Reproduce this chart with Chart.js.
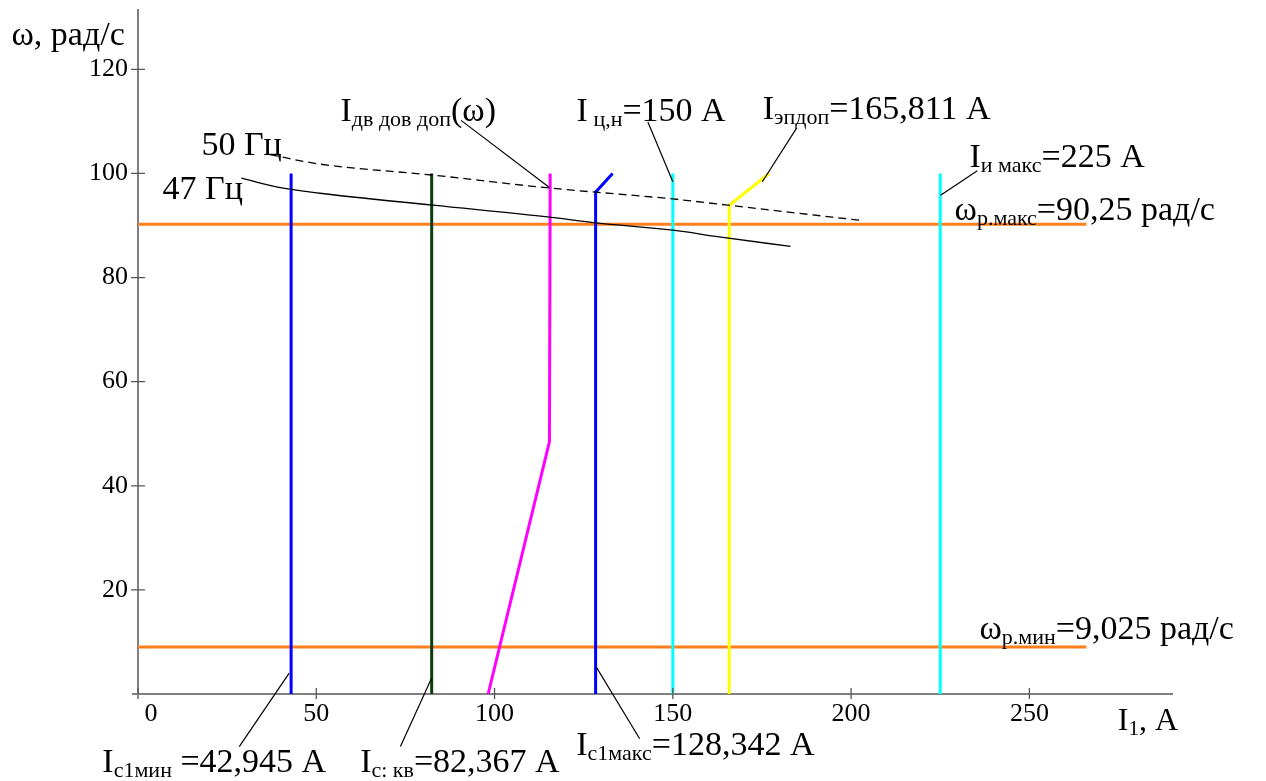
<!DOCTYPE html>
<html>
<head>
<meta charset="utf-8">
<script src="https://cdn.jsdelivr.net/npm/chart.js@4.4.1/dist/chart.umd.min.js"></script>
<style>
  html, body { margin: 0; padding: 0; background: #fff; }
  canvas { display: block; }
</style>
</head>
<body>
<canvas id="chart" width="1266" height="781"></canvas>
<script>
// Tick values of both axes
const xTicks = [0, 50, 100, 150, 200, 250];
const yTicks = [20, 40, 60, 80, 100, 120];

// Mechanical characteristic at 50 Hz: current I1 (A) and speed ω (rad/s)
const curve50I = [37, 51, 82.4, 115.4, 150, 163, 202.5];
const curve50W = [103.6, 101.8, 99.7, 97.2, 95.1, 94.1, 91.0];

// Mechanical characteristic at 47 Hz
const curve47I = [29, 38.8, 51, 82.7, 115.4, 128.5, 150.1, 163, 183];
const curve47W = [99.1, 97.4, 96.2, 93.9, 91.6, 90.5, 89.1, 87.8, 86.0];

// Current limits, A
const Ic1min = 42.945;
const Iskv = 82.367;
const Ic1max = 128.342;
const Itn = 150;
const Iep = 165.811;
const Iim = 225;

// Speed limits, rad/s
const wMax = 90.25;
const wMin = 9.025;
const wTop = 100;
const limitEndI = 266;

// Permissible motor current vs speed
const dvI = [98.2, 115.4, 115.6];
const dvW = [0, 48.5, wTop];

// Upper ends of the bent limit lines
const c1maxI = [Ic1max, Ic1max, 133.1];
const c1maxW = [0, 96.4, wTop];
const epI = [Iep, Iep, 177.0];
const epW = [0, 93.9, wTop];

// Leader lines from the captions to the curves: [I1, ω, I2, ω2]
const leaders = [
  [90.6, 110.2, 115.4, 97.3],
  [143.0, 109.9, 150.0, 98.4],
  [184.8, 108.8, 175.1, 98.4],
  [235.4, 100.5, 225.1, 95.8],
  [42.4, 4.0, 28.4, -10.1],
  [82.3, 3.0, 73.6, -10.1],
  [128.5, 5.2, 140.7, -8.6]
];

const fmt = v => String(v).replace('.', ',');
const pts = (xs, ys) => xs.map((v, i) => ({ x: v, y: ys[i] }));

// Captions: anchor [I1, ω] of the baseline start, then text runs (1 = subscript)
const notes = [
  { at: [17.8, 103.5], parts: [['50 Гц']] },
  { at: [6.9, 95.1], parts: [['47 Гц']] },
  { at: [56.8, 110.0], parts: [['I'], ['дв дов доп', 1], ['(ω)']] },
  { at: [123.0, 110.0], parts: [['I'], [' ц,н', 1], ['=' + fmt(Itn) + ' A']] },
  { at: [175.2, 110.4], parts: [['I'], ['эпдоп', 1], ['=' + fmt(Iep) + ' A']] },
  { at: [233.2, 101.3], parts: [['I'], ['и макс', 1], ['=' + fmt(Iim) + ' A']] },
  { at: [229.0, 91.0], parts: [['ω'], ['р.макс', 1], ['=' + fmt(wMax) + ' рад/с']] },
  { at: [236.0, 10.5], parts: [['ω'], ['р.мин', 1], ['=' + fmt(wMin) + ' рад/с']] },
  { at: [-10.0, -14.9], parts: [['I'], ['c1мин', 1], [' =' + fmt(Ic1min) + ' A']] },
  { at: [62.3, -14.9], parts: [['I'], ['с: кв', 1], ['=' + fmt(Iskv) + ' A']] },
  { at: [122.9, -11.7], parts: [['I'], ['c1макс', 1], ['=' + fmt(Ic1max) + ' A']] },
  { at: [274.8, -6.9], size: 32, parts: [['I'], ['1', 1], [', A']] },
  { at: [-35.5, 124.6], parts: [['ω, рад/с']] }
];

const FONT = '"Liberation Serif", "Times New Roman", serif';
const MAIN = 34, SUB_RATIO = 0.65, SUB_DROP = 5;

const vline = (xv, color, order) => ({
  data: pts([xv, xv], [0, wTop]), borderColor: color, borderWidth: 3, order
});
const path = (xs, ys, color, order) => ({
  data: pts(xs, ys), borderColor: color, borderWidth: 3, order
});
const hline = (yv) => ({
  data: pts([0, limitEndI], [yv, yv]), borderColor: '#ff7f1e', borderWidth: 3, order: 3
});

const datasets = [
  hline(wMax),
  hline(wMin),
  vline(Ic1min, '#0000ff', 2),
  vline(Iskv, '#0a3f0a', 2),
  path(dvI, dvW, '#ff00ff', 2),
  path(c1maxI, c1maxW, '#0000ff', 2),
  vline(Itn, '#00ffff', 2),
  path(epI, epW, '#ffff00', 2),
  vline(Iim, '#00ffff', 2),
  { data: pts(curve50I, curve50W), borderColor: '#000', borderWidth: 1.3,
    borderDash: [8, 5], cubicInterpolationMode: 'monotone', order: 1 },
  { data: pts(curve47I, curve47W), borderColor: '#000', borderWidth: 1.3,
    cubicInterpolationMode: 'monotone', order: 1 },
  ...leaders.map(l => ({
    data: pts([l[0], l[2]], [l[1], l[3]]), borderColor: '#000', borderWidth: 1.2,
    order: 0, clip: false
  }))
].map(d => Object.assign({ showLine: true, pointRadius: 0, fill: false }, d));

// Tick marks crossing the axes, and the short axis overhang at the origin
const axisMarks = {
  id: 'axisMarks',
  afterDatasetsDraw(chart) {
    const { ctx, chartArea: a, scales: { x, y } } = chart;
    ctx.save();
    ctx.strokeStyle = '#555';
    ctx.lineWidth = 1.3;
    ctx.beginPath();
    for (const v of xTicks) {
      const px = x.getPixelForValue(v);
      ctx.moveTo(px, a.bottom - 6);
      ctx.lineTo(px, a.bottom + 5);
    }
    for (const v of yTicks) {
      const py = y.getPixelForValue(v);
      ctx.moveTo(a.left - 7, py);
      ctx.lineTo(a.left + 7, py);
    }
    ctx.stroke();
    ctx.strokeStyle = '#808080';
    ctx.lineWidth = 2;
    ctx.beginPath();
    ctx.moveTo(a.left - 6, a.bottom);
    ctx.lineTo(a.left, a.bottom);
    ctx.stroke();
    ctx.restore();
  }
};

// Captions with subscripts
const captions = {
  id: 'captions',
  afterDraw(chart) {
    const { ctx, scales: { x, y } } = chart;
    ctx.save();
    ctx.fillStyle = '#000';
    ctx.textBaseline = 'alphabetic';
    ctx.textAlign = 'left';
    for (const n of notes) {
      const size = n.size || MAIN;
      let px = x.getPixelForValue(n.at[0]);
      const py = y.getPixelForValue(n.at[1]);
      for (const [t, sub] of n.parts) {
        ctx.font = Math.round(sub ? size * SUB_RATIO : size) + 'px ' + FONT;
        ctx.fillText(t, px, py + (sub ? SUB_DROP : 0));
        px += ctx.measureText(t).width;
      }
    }
    ctx.restore();
  }
};

new Chart(document.getElementById('chart'), {
  type: 'scatter',
  data: { datasets },
  options: {
    responsive: false,
    devicePixelRatio: 1,
    animation: false,
    events: [],
    layout: { padding: { left: 0, right: 94, top: 10, bottom: 0 } },
    plugins: { legend: { display: false }, tooltip: { enabled: false } },
    scales: {
      x: {
        type: 'linear', min: 0, max: 290,
        afterBuildTicks: s => { s.ticks = xTicks.map(v => ({ value: v })); },
        afterFit: s => { s.height = 87; s.paddingLeft = 0; s.paddingRight = 0; },
        grid: { display: false, drawTicks: false },
        border: { display: true, color: '#808080', width: 2 },
        ticks: {
          autoSkip: false, maxRotation: 0, padding: 5, color: '#000',
          font: { family: FONT, size: 26 },
          callback: v => (v === 0 ? '\u2007\u20070' : String(v))
        }
      },
      y: {
        type: 'linear', min: 0, max: 131.4,
        afterBuildTicks: s => { s.ticks = yTicks.map(v => ({ value: v })); },
        afterFit: s => { s.width = 138; s.paddingTop = 0; s.paddingBottom = 0; },
        grid: { display: false, drawTicks: false },
        border: { display: true, color: '#808080', width: 2 },
        ticks: {
          autoSkip: false, padding: 10, color: '#000',
          font: { family: FONT, size: 26 },
          callback: v => String(v)
        }
      }
    }
  },
  plugins: [axisMarks, captions]
});
</script>
</body>
</html>
